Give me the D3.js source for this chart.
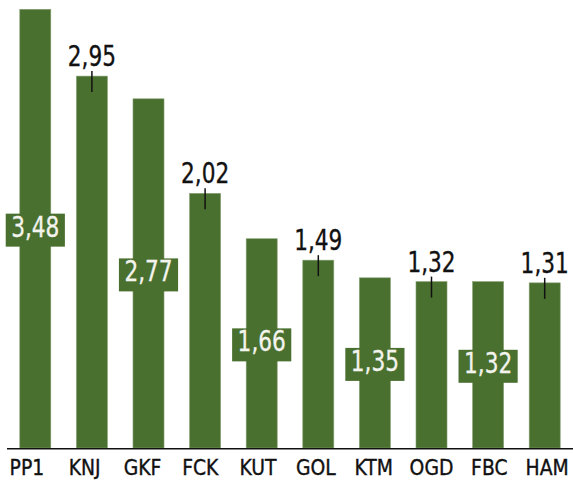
<!DOCTYPE html>
<html>
<head>
<meta charset="utf-8">
<script src="https://cdn.jsdelivr.net/npm/d3@7"></script>
<style>
  body { margin: 0; background: #fff; }
  svg { display: block; }
  text { font-family: "DejaVu Sans Condensed", "DejaVu Sans", sans-serif; }
</style>
</head>
<body>
<div id="chart"></div>
<script>
// data
var categories = ["PP1", "KNJ", "GKF", "FCK", "KUT", "GOL", "KTM", "OGD", "FBC", "HAM"];
var values = [3.48, 2.95, 2.77, 2.02, 1.66, 1.49, 1.35, 1.32, 1.32, 1.31];
var valueLabels = ["3,48", "2,95", "2,77", "2,02", "1,66", "1,49", "1,35", "1,32", "1,32", "1,31"];

var svgWidth = 573;
var svgHeight = 491;
var barColor = "#4a7030";
var squeeze = 0.83; // value labels are narrower than the font
var catSqueeze = 0.95;

var data = categories.map(function(c, i) {
  return { cat: c, value: values[i], label: valueLabels[i], inside: i % 2 === 0 };
});

var svg = d3.select("#chart")
  .append("svg")
  .attr("width", svgWidth)
  .attr("height", svgHeight);

// scales
var x = d3.scaleBand()
  .domain(categories)
  .range([7, 573])
  .paddingInner(0.452)
  .paddingOuter(0.226);

// the category names are spread a little wider than the bars
var xLabel = d3.scaleBand()
  .domain(categories)
  .range([-2, 576]);

var y = d3.scaleLinear()
  .domain([0, 3.48])
  .range([448, 9.3]);

// bars
svg.selectAll("rect.bar")
  .data(data)
  .enter()
  .append("rect")
  .attr("class", "bar")
  .attr("x", d => x(d.cat))
  .attr("y", d => y(d.value))
  .attr("width", x.bandwidth())
  .attr("height", d => y(0) - y(d.value))
  .attr("fill", barColor)
  .attr("stroke", "#86a072")
  .attr("stroke-width", 0.6);

// baseline
svg.append("line")
  .attr("x1", x.range()[0])
  .attr("x2", x.range()[1])
  .attr("y1", y(0) + 0.8)
  .attr("y2", y(0) + 0.8)
  .attr("stroke", "#111")
  .attr("stroke-width", 1.6);

// x axis labels
var xAxis = svg.append("g")
  .attr("transform", `translate(0, ${y(0) + 0.5})`)
  .call(d3.axisBottom(xLabel).tickSize(0).tickPadding(11));

xAxis.select(".domain").remove();

xAxis.selectAll("text")
  .style("font-size", "22px")
  .attr("fill", "#111")
  .attr("stroke", "#111")
  .attr("stroke-width", 0.35)
  .attr("dy", "0.71em")
  .attr("transform", `scale(${catSqueeze},1)`);

// labels above the bar, with a small tick
var above = data.filter(d => !d.inside);

svg.selectAll("line.tick-mark")
  .data(above)
  .enter()
  .append("line")
  .attr("class", "tick-mark")
  .attr("x1", d => x(d.cat) + x.bandwidth() / 2)
  .attr("x2", d => x(d.cat) + x.bandwidth() / 2)
  .attr("y1", d => y(d.value) - 5)
  .attr("y2", d => y(d.value) + 16)
  .attr("stroke", "#111")
  .attr("stroke-width", 1.5);

svg.selectAll("text.above")
  .data(above)
  .enter()
  .append("text")
  .attr("class", "above")
  .attr("text-anchor", "middle")
  .style("font-size", "29px")
  .attr("fill", "#111")
  .attr("stroke", "#111")
  .attr("stroke-width", 0.35)
  .attr("transform", d => `translate(${x(d.cat) + x.bandwidth() / 2}, ${y(d.value) - 10}) scale(${squeeze},1)`)
  .text(d => d.label);

// labels inside the bar, on a green box
var inside = data.filter(d => d.inside);

var insideGroups = svg.selectAll("g.inside")
  .data(inside)
  .enter()
  .append("g")
  .attr("class", "inside")
  .attr("transform", d => `translate(${x(d.cat) + x.bandwidth() / 2}, ${(y(d.value) + y(0)) / 2 + 8})`);

var boxes = insideGroups.append("rect")
  .attr("fill", barColor);

var insideText = insideGroups.append("text")
  .attr("text-anchor", "middle")
  .style("font-size", "29px")
  .attr("fill", "#f4f4ee")
  .attr("stroke", "#f4f4ee")
  .attr("stroke-width", 0.3)
  .attr("transform", `scale(${squeeze},1)`)
  .text(d => d.label);

insideText.each(function() {
  var w = this.getBBox().width * squeeze + 11;
  d3.select(this.parentNode).select("rect")
    .attr("x", -w / 2)
    .attr("y", -23)
    .attr("width", w)
    .attr("height", 33);
});
</script>
</body>
</html>
